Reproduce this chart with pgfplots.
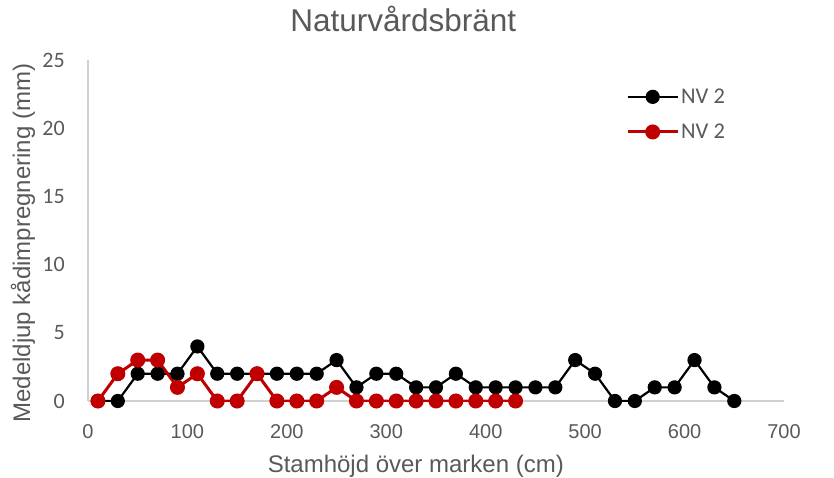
\documentclass[border=0pt]{standalone}
\usepackage{pgfplots}
\pgfplotsset{compat=1.18}
\usepackage{fontspec}
\setmainfont{Liberation Sans}
\newfontfamily\calfont{Carlito}
\definecolor{txt}{HTML}{595959}
\definecolor{ax}{HTML}{D0D0D0}
\definecolor{redc}{HTML}{C00000}
\begin{document}
\begin{tikzpicture}[x=1pt,y=1pt]
\useasboundingbox (-88,-76) rectangle (746,401);
\begin{axis}[
  at={(0,0)}, anchor=south west,
  scale only axis, width=696pt, height=341pt,
  xmin=0, xmax=700, ymin=0, ymax=25,
  xtick={0,100,...,700}, ytick={0,5,...,25},
  major tick length=0pt,
  axis x line*=bottom, axis y line*=left,
  axis line style={ax, line width=1.3pt, -},
  every axis x line/.append style={-}, every axis y line/.append style={-},
  /pgf/number format/assume math mode=true,
  xticklabel style={font=\fontsize{20}{22}\selectfont, text=txt, anchor=base, inner sep=0pt, yshift=-37pt},
  yticklabel style={font=\calfont\fontsize{22}{24}\selectfont, text=txt, anchor=east, inner sep=0pt, xshift=-23pt},
  xlabel={Stamhöjd över marken (cm)},
  ylabel={Medeldjup kådimpregnering (mm)},
  xlabel style={font=\fontsize{24}{26}\selectfont, text=txt, at={(axis description cs:0.471,-0.211)}, anchor=base, inner sep=0pt},
  ylabel style={font=\fontsize{24}{26}\selectfont, text=txt, at={(axis description cs:-0.0833,0.463)}, anchor=base, inner sep=0pt},
  title={Naturvårdsbränt},
  title style={font=\fontsize{31.5}{34}\selectfont, text=txt, at={(axis description cs:0.453,1.067)}, anchor=base, inner sep=0pt},
  legend style={at={(axis description cs:0.773,0.922)}, anchor=north west, draw=none, fill=none,
    font=\calfont\fontsize{22.5}{24}\selectfont, text=txt, row sep=15pt, inner sep=0pt},
  legend cell align=left,
  legend image code/.code={\draw[mark repeat=2,mark phase=2,#1] plot coordinates {(0pt,0pt) (25pt,0pt) (50pt,0pt)};},
]
\addplot[black, line width=2.2pt, mark=*, mark size=6pt] coordinates {
(10,0)(30,0)(50,2)(70,2)(90,2)(110,4)(130,2)(150,2)(170,2)(190,2)(210,2)(230,2)(250,3)(270,1)(290,2)(310,2)(330,1)(350,1)(370,2)(390,1)(410,1)(430,1)(450,1)(470,1)(490,3)(510,2)(530,0)(550,0)(570,1)(590,1)(610,3)(630,1)(650,0)};
\addlegendentry{NV 2}
\addplot[redc, line width=3pt, mark=*, mark size=6pt] coordinates {
(10,0)(30,2)(50,3)(70,3)(90,1)(110,2)(130,0)(150,0)(170,2)(190,0)(210,0)(230,0)(250,1)(270,0)(290,0)(310,0)(330,0)(350,0)(370,0)(390,0)(410,0)(430,0)};
\addlegendentry{NV 2}
\end{axis}
\end{tikzpicture}
\end{document}
